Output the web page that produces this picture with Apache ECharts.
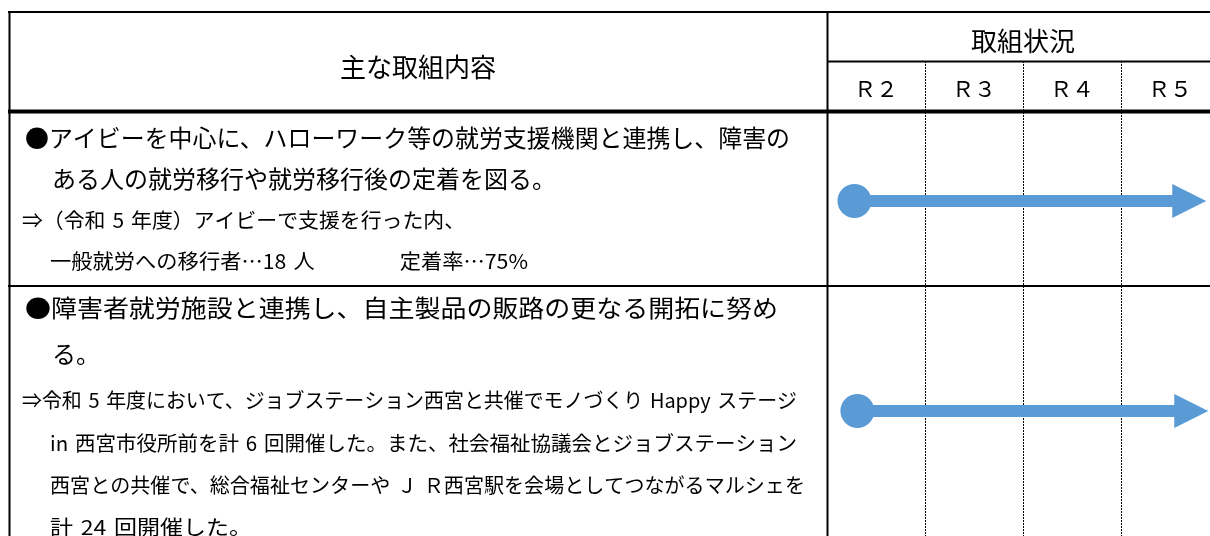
<!DOCTYPE html>
<html><head><meta charset="utf-8">
<script src="https://cdn.jsdelivr.net/npm/echarts@6/dist/echarts.min.js"></script>
<style>html,body{margin:0;padding:0;background:#fff}#c{width:1210px;height:536px}</style>
</head><body><div id="c"></div>
<script>
// ---- data ----
const years = ['Ｒ２', 'Ｒ３', 'Ｒ４', 'Ｒ５'];
const headerMain = '主な取組内容';
const headerStatus = '取組状況';
const row1Lines = [
  '●アイビーを中心に、ハローワーク等の就労支援機関と連携し、障害の',
  'ある人の就労移行や就労移行後の定着を図る。',
  '⇒（令和 5 年度）アイビーで支援を行った内、',
  '一般就労への移行者…18 人　　　　定着率…75%'
];
const row2Lines = [
  '●障害者就労施設と連携し、自主製品の販路の更なる開拓に努め',
  'る。',
  '⇒令和 5 年度において、ジョブステーション西宮と共催でモノづくり Happy ステージ',
  'in 西宮市役所前を計 6 回開催した。また、社会福祉協議会とジョブステーション',
  '西宮との共催で、総合福祉センターや Ｊ Ｒ西宮駅を会場としてつながるマルシェを',
  '計 24 回開催した。'
];
// arrow start / end in column units (0 = start of R2, 4 = end of R5)
const arrowStart = [0.28, 0.31];
const arrowEnd = [3.87, 3.89];

// ---- layout / style ----
const FONT = '"Noto Sans CJK JP", "Noto Sans", sans-serif';
const BLUE = '#5B9BD5';
// [left x, centre y, font size, right edge (0 = natural width)]
const row1Layout = [[25, 138, 24, 790], [52, 179, 24, 0], [22, 220, 20.5, 465], [50, 261, 20.5, 528]];
const row2Layout = [[25, 308, 24, 778], [52, 354, 24, 0], [22, 400, 20.5, 797], [50, 443, 20.5, 797], [50, 485, 20.5, 805], [50, 527, 20.5, 252]];

const measureCtx = document.createElement('canvas').getContext('2d');
function measure(t, size) {
  measureCtx.font = size + 'px ' + FONT;
  return measureCtx.measureText(t).width;
}
function textEl(raw, l) {
  const t = raw.replace(/ /g, '\u2004');
  let sx = 1;
  if (l[3]) sx = (l[3] - l[0]) / measure(t, l[2]);
  return { type: 'text', z: 10, x: l[0], y: l[1], scaleX: sx, scaleY: 1,
    style: { text: t, x: 0, y: 0, fontSize: l[2], fontFamily: FONT, fill: '#000', verticalAlign: 'middle', align: 'left' } };
}
function hLine(x1, x2, y, w) {
  return { type: 'line', z: 20, shape: { x1: x1, y1: y, x2: x2, y2: y }, style: { stroke: '#000', lineWidth: w } };
}
function vLine(x, y1, y2, w) {
  return { type: 'line', z: 20, shape: { x1: x, y1: y1, x2: x, y2: y2 }, style: { stroke: '#000', lineWidth: w } };
}

const graphics = [
  hLine(8, 1220, 12, 2),
  vLine(9.5, 11, 540, 2),
  vLine(827.5, 11, 540, 2),
  hLine(827, 1220, 61.5, 2),
  hLine(8, 1220, 111.5, 4),
  hLine(8, 1220, 286, 2),
  { type: 'text', z: 10, style: { text: headerMain, x: 418, y: 67, fontSize: 26, fontFamily: FONT, fill: '#000', align: 'center', verticalAlign: 'middle' } },
  { type: 'text', z: 10, style: { text: headerStatus, x: 1023, y: 41, fontSize: 26, fontFamily: FONT, fill: '#000', align: 'center', verticalAlign: 'middle' } }
];
row1Lines.forEach((t, i) => graphics.push(textEl(t, row1Layout[i])));
row2Lines.forEach((t, i) => graphics.push(textEl(t, row2Layout[i])));

function renderArrow(params, api) {
  const s = api.coord([api.value(0), api.value(2)]);
  const e = api.coord([api.value(1), api.value(2)]);
  const y = s[1];
  const head = 34, half = 17, lw = 12, r = 17;
  return {
    type: 'group', children: [
      { type: 'rect', shape: { x: s[0], y: y - lw / 2, width: e[0] - head - s[0] + 1, height: lw }, style: { fill: BLUE } },
      { type: 'circle', shape: { cx: s[0], cy: y, r: r }, style: { fill: BLUE } },
      { type: 'polygon', shape: { points: [[e[0] - head, y - half], [e[0], y], [e[0] - head, y + half]] }, style: { fill: BLUE } }
    ]
  };
}

const chart = echarts.init(document.getElementById('c'), null, { renderer: 'canvas' });
chart.setOption({
  animation: false,
  backgroundColor: '#fff',
  grid: [
    { left: 827, width: 392, top: 61, height: 480, outerBoundsMode: 'none', containLabel: false },
    { left: 827, width: 392, top: 114, height: 174, outerBoundsMode: 'none', containLabel: false },
    { left: 827, width: 392, top: 288, height: 246, outerBoundsMode: 'none', containLabel: false }
  ],
  xAxis: [
    {
      type: 'category', gridIndex: 0, data: years, position: 'top', boundaryGap: true,
      axisLine: { show: false }, axisTick: { show: false },
      axisLabel: { inside: true, margin: 17, fontSize: 22, fontFamily: FONT, color: '#000' },
      splitLine: { show: true, lineStyle: { color: '#000', width: 1, type: [2, 1] } }
    },
    { type: 'value', gridIndex: 1, min: 0, max: 4, show: false },
    { type: 'value', gridIndex: 2, min: 0, max: 4, show: false }
  ],
  yAxis: [
    { type: 'value', gridIndex: 0, show: false },
    { type: 'category', gridIndex: 1, data: ['row1'], show: false },
    { type: 'category', gridIndex: 2, data: ['row2'], show: false }
  ],
  series: [
    { type: 'custom', xAxisIndex: 1, yAxisIndex: 1, renderItem: renderArrow, encode: { x: [0, 1], y: 2 }, data: [[arrowStart[0], arrowEnd[0], 0]], z: 5 },
    { type: 'custom', xAxisIndex: 2, yAxisIndex: 2, renderItem: renderArrow, encode: { x: [0, 1], y: 2 }, data: [[arrowStart[1], arrowEnd[1], 0]], z: 5 }
  ],
  graphic: graphics
});
</script>
</body></html>
